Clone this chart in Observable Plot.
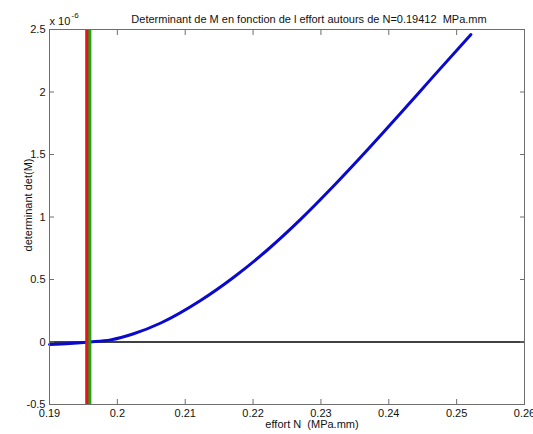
<!DOCTYPE html>
<html>
<head>
<meta charset="utf-8">
<script src="https://cdn.jsdelivr.net/npm/d3@7"></script>
<script src="https://cdn.jsdelivr.net/npm/@observablehq/plot@0.6"></script>
<style>
  html, body { margin: 0; padding: 0; background: #fff; }
  svg { display: block; }
</style>
</head>
<body>
<div id="chart"></div>
<script>
// Data (det in units of 1e-6)
const effortN = [0.190, 0.193, 0.196, 0.199, 0.2024, 0.2064, 0.2122, 0.2171, 0.2221, 0.2270, 0.2319, 0.2368, 0.2417, 0.2466, 0.2521];
const detM    = [-0.02, -0.012, 0.0, 0.017, 0.066, 0.152, 0.33, 0.516, 0.736, 0.981, 1.25, 1.534, 1.828, 2.127, 2.46];
const redLineN = [0.19550];
const greenLineN = [0.19592];
const zeroLine = [0];
const xTicks = [0.19, 0.2, 0.21, 0.22, 0.23, 0.24, 0.25, 0.26];
const yTicks = [-0.5, 0, 0.5, 1, 1.5, 2, 2.5];
const titleText = "Determinant de M en fonction de l effort autours de N=0.19412\u00a0\u00a0MPa.mm";
const xLabelText = "effort N\u00a0\u00a0(MPa.mm)";
const yLabelText = "determinant det(M)";

const curve = effortN.map((n, i) => ({n, d: detM[i]}));
const font = "Liberation Sans, Arial, sans-serif";
const tickColor = "#6e6e6e";

const chart = Plot.plot({
  width: 533,
  height: 434,
  marginLeft: 49,
  marginRight: 9,
  marginTop: 29,
  marginBottom: 30,
  style: {fontFamily: font, fontSize: "11px", color: "#111", background: "#fff"},
  x: {domain: [0.19, 0.26]},
  y: {domain: [-0.5, 2.5]},
  marks: [
    Plot.ruleY(zeroLine, {stroke: "#000", strokeWidth: 1.6}),
    Plot.line(curve, {x: "n", y: "d", stroke: "#0a0acc", strokeWidth: 3, curve: "monotone-x"}),
    Plot.ruleX(greenLineN, {stroke: "#18a818", strokeWidth: 3.4}),
    Plot.ruleX(redLineN, {stroke: "#e8141a", strokeWidth: 3.2}),
    Plot.frame({stroke: tickColor, strokeWidth: 1}),
    // inward ticks on all four sides
    Plot.axisX({anchor: "bottom", ticks: xTicks, tickSize: -5, text: null, label: null, stroke: tickColor}),
    Plot.axisX({anchor: "top", ticks: xTicks, tickSize: -5, text: null, label: null, stroke: tickColor}),
    Plot.axisY({anchor: "left", ticks: yTicks, tickSize: -5, text: null, label: null, stroke: tickColor}),
    Plot.axisY({anchor: "right", ticks: yTicks, tickSize: -5, text: null, label: null, stroke: tickColor}),
    // tick labels
    Plot.axisX({anchor: "bottom", ticks: xTicks, tickSize: 0, tickPadding: 5, label: null, tickFormat: d => String(+d.toFixed(2)), fill: "#111"}),
    Plot.axisY({anchor: "left", ticks: yTicks, tickSize: 0, tickPadding: 4, label: null, tickFormat: d => String(d), fill: "#111"}),
    // exponent label
    Plot.text(["x 10"], {frameAnchor: "top-left", text: d => d, textAnchor: "start", lineAnchor: "middle", dx: 0, dy: -8, fontSize: 11, fill: "#111"}),
    Plot.text(["-6"], {frameAnchor: "top-left", text: d => d, textAnchor: "start", lineAnchor: "middle", dx: 22, dy: -14, fontSize: 8, fill: "#111"}),
    // title and axis labels
    Plot.text([titleText], {frameAnchor: "top", text: d => d, lineAnchor: "middle", dx: 22, dy: -10, fontSize: 11, fill: "#111"}),
    Plot.text([xLabelText], {frameAnchor: "bottom", text: d => d, textAnchor: "middle", lineAnchor: "middle", dx: 25, dy: 20, fontSize: 11, fill: "#111"}),
    Plot.text([yLabelText], {frameAnchor: "left", text: d => d, textAnchor: "middle", lineAnchor: "middle", rotate: -90, dx: -21, dy: -12, fontSize: 11, fill: "#111"})
  ]
});
document.getElementById("chart").appendChild(chart);
</script>
</body>
</html>
